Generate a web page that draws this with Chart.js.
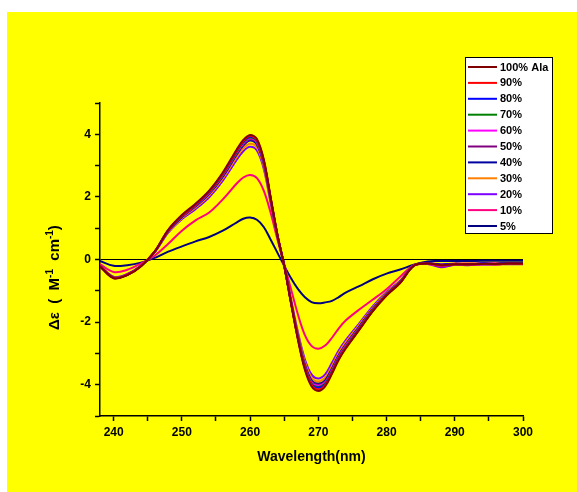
<!DOCTYPE html>
<html>
<head>
<meta charset="utf-8">
<script src="https://cdn.jsdelivr.net/npm/chart.js@4/dist/chart.umd.min.js"></script>
<style>
  html, body { margin: 0; padding: 0; background: #ffffff; }
  #wrap { width: 577px; height: 492px; }
</style>
</head>
<body>
<div id="wrap"><canvas id="cd" width="577" height="492"></canvas></div>
<script>
// wavelength grid (nm)
var wavelength = [238, 240, 242, 244, 246, 248, 250, 252, 254, 256, 258, 259, 260, 261, 262, 263, 264, 265, 266, 267,
                  268, 269, 270, 271, 272, 273, 274, 276, 278, 280, 282, 284, 286, 288, 290, 292, 294, 296, 298, 300];

var seriesNames = ['100% Ala', '90%', '80%', '70%', '60%', '50%', '40%', '30%', '20%', '10%', '5%'];

var ala100 = [-0.22, -0.60, -0.50, -0.22, 0.25, 0.95, 1.42, 1.78, 2.20, 2.78, 3.50, 3.82, 3.98, 3.85, 3.20, 2.00, 0.80, -0.20, -1.40, -2.55,
              -3.50, -4.05, -4.20, -4.05, -3.65, -3.20, -2.85, -2.25, -1.65, -1.15, -0.75, -0.20, -0.13, -0.18, -0.15, -0.15, -0.14, -0.14, -0.13, -0.13];
var ala90 = [-0.21, -0.59, -0.49, -0.21, 0.25, 0.94, 1.40, 1.76, 2.18, 2.75, 3.47, 3.78, 3.95, 3.81, 3.17, 1.98, 0.79, -0.20, -1.38, -2.52,
             -3.46, -4.00, -4.15, -4.01, -3.61, -3.17, -2.82, -2.23, -1.63, -1.14, -0.74, -0.20, -0.13, -0.19, -0.15, -0.16, -0.14, -0.15, -0.13, -0.14];
var ala80 = [-0.21, -0.59, -0.49, -0.21, 0.24, 0.93, 1.40, 1.75, 2.17, 2.74, 3.45, 3.76, 3.92, 3.79, 3.15, 1.97, 0.79, -0.19, -1.38, -2.51,
             -3.45, -3.99, -4.10, -3.99, -3.60, -3.15, -2.81, -2.22, -1.63, -1.13, -0.74, -0.20, -0.12, -0.17, -0.14, -0.15, -0.13, -0.14, -0.12, -0.13];
var ala70 = [-0.21, -0.58, -0.49, -0.21, 0.24, 0.93, 1.39, 1.74, 2.15, 2.72, 3.42, 3.74, 3.90, 3.77, 3.13, 1.96, 0.78, -0.19, -1.37, -2.49,
             -3.42, -3.96, -4.07, -3.96, -3.57, -3.13, -2.79, -2.20, -1.61, -1.12, -0.73, -0.20, -0.13, -0.18, -0.15, -0.15, -0.14, -0.14, -0.13, -0.13];
var ala60 = [-0.21, -0.58, -0.48, -0.21, 0.24, 0.92, 1.38, 1.73, 2.13, 2.70, 3.40, 3.71, 3.87, 3.74, 3.10, 1.94, 0.78, -0.19, -1.36, -2.47,
             -3.40, -3.93, -4.03, -3.93, -3.54, -3.10, -2.76, -2.18, -1.60, -1.12, -0.73, -0.19, -0.14, -0.20, -0.16, -0.16, -0.15, -0.15, -0.14, -0.14];
var ala50 = [-0.21, -0.58, -0.48, -0.21, 0.24, 0.91, 1.37, 1.71, 2.12, 2.68, 3.37, 3.68, 3.84, 3.71, 3.08, 1.93, 0.77, -0.19, -1.35, -2.46,
             -3.37, -3.90, -4.00, -3.90, -3.52, -3.08, -2.74, -2.17, -1.59, -1.11, -0.72, -0.19, -0.13, -0.22, -0.16, -0.17, -0.15, -0.15, -0.14, -0.14];
var ala40 = [-0.21, -0.57, -0.48, -0.21, 0.24, 0.91, 1.35, 1.70, 2.10, 2.65, 3.34, 3.64, 3.80, 3.67, 3.05, 1.91, 0.76, -0.19, -1.33, -2.43,
             -3.34, -3.86, -3.97, -3.86, -3.48, -3.05, -2.72, -2.14, -1.57, -1.10, -0.71, -0.19, -0.12, -0.17, -0.14, -0.15, -0.13, -0.14, -0.12, -0.13];
var ala30 = [-0.20, -0.56, -0.47, -0.20, 0.23, 0.88, 1.32, 1.66, 2.05, 2.59, 3.26, 3.55, 3.70, 3.58, 2.98, 1.86, 0.74, -0.19, -1.30, -2.37,
             -3.26, -3.77, -3.90, -3.77, -3.40, -2.98, -2.65, -2.09, -1.54, -1.07, -0.70, -0.19, -0.13, -0.19, -0.15, -0.16, -0.14, -0.15, -0.13, -0.14];
var ala20 = [-0.20, -0.55, -0.46, -0.20, 0.23, 0.86, 1.29, 1.61, 1.99, 2.52, 3.17, 3.46, 3.60, 3.48, 2.90, 1.81, 0.72, -0.18, -1.27, -2.31,
             -3.17, -3.67, -3.80, -3.67, -3.30, -2.90, -2.58, -2.04, -1.49, -1.04, -0.68, -0.19, -0.14, -0.25, -0.17, -0.18, -0.16, -0.16, -0.15, -0.15];
var ala10 = [-0.15, -0.40, -0.33, -0.13, 0.12, 0.50, 0.92, 1.25, 1.50, 1.92, 2.42, 2.62, 2.70, 2.60, 2.20, 1.50, 0.65, -0.15, -0.95, -1.75,
             -2.40, -2.76, -2.85, -2.75, -2.50, -2.20, -1.95, -1.60, -1.28, -0.95, -0.55, -0.18, -0.13, -0.15, -0.13, -0.13, -0.12, -0.12, -0.12, -0.12];
var ala5 = [-0.05, -0.20, -0.18, -0.10, 0.05, 0.25, 0.42, 0.58, 0.72, 0.92, 1.18, 1.30, 1.34, 1.27, 1.04, 0.64, 0.22, -0.20, -0.60, -0.94,
            -1.20, -1.36, -1.40, -1.37, -1.32, -1.20, -1.06, -0.85, -0.63, -0.45, -0.32, -0.17, -0.06, -0.05, -0.05, -0.05, -0.04, -0.04, -0.04, -0.04];

var xTicks = [240, 245, 250, 255, 260, 265, 270, 275, 280, 285, 290, 295, 300];

var allSeries = [ala100, ala90, ala80, ala70, ala60, ala50, ala40, ala30, ala20, ala10, ala5];
var colors = ['#800000', '#FF0000', '#0000FF', '#008000', '#FF00FF', '#800080', '#0000A0', '#FF8000', '#8000FF', '#FF0080', '#000080'];

var datasets = allSeries.map(function (vals, i) {
    return {
        label: seriesNames[i],
        data: vals.map(function (v, j) { return { x: wavelength[j], y: v }; }),
        borderColor: colors[i],
        backgroundColor: colors[i],
        borderWidth: 2,
        pointRadius: 0,
        tension: 0.35,
        fill: false
    };
});

var fontFam = '"Liberation Sans", Arial, sans-serif';

// yellow page background with white margin at top and left
var bgPlugin = {
    id: 'bg',
    beforeDraw: function (chart) {
        var c = chart.ctx;
        c.save();
        c.fillStyle = '#FFFF00';
        c.fillRect(7, 12, 570, 480);
        c.restore();
    }
};

// rotated y title with real superscripts
var yTitle = {
    id: 'yTitle',
    afterDraw: function (chart) {
        var c = chart.ctx;
        var parts = [['Δε  (  M', 15, 0], ['-1', 10, -6], ['  cm', 15, 0], ['-1', 10, -6], [')', 15, 0]];
        c.save();
        c.translate(59, 330);
        c.rotate(-Math.PI / 2);
        c.fillStyle = '#000';
        c.textBaseline = 'alphabetic';
        var x = 0;
        for (var i = 0; i < parts.length; i++) {
            c.font = 'bold ' + parts[i][1] + 'px ' + fontFam;
            c.fillText(parts[i][0], x, parts[i][2]);
            x += c.measureText(parts[i][0]).width;
        }
        c.restore();
    }
};

// boxed legend in the upper right
var boxLegend = {
    id: 'boxLegend',
    afterDraw: function (chart) {
        var c = chart.ctx;
        c.save();
        c.fillStyle = '#ffffff';
        c.fillRect(465, 57, 87, 176);
        c.strokeStyle = '#000000';
        c.lineWidth = 1;
        c.strokeRect(465.5, 57.5, 87, 176);
        c.font = 'bold 11px ' + fontFam;
        c.textBaseline = 'middle';
        for (var i = 0; i < seriesNames.length; i++) {
            var y = 67 + i * 15.9;
            c.strokeStyle = colors[i];
            c.lineWidth = 2;
            c.beginPath();
            c.moveTo(468, y);
            c.lineTo(497, y);
            c.stroke();
            c.fillStyle = '#000000';
            c.fillText(seriesNames[i], 500, y + 0.5);
        }
        c.restore();
    }
};

var chart = new Chart(document.getElementById('cd'), {
    type: 'line',
    data: { datasets: datasets },
    plugins: [bgPlugin, yTitle, boxLegend],
    options: {
        responsive: false,
        animation: false,
        layout: { padding: { top: 103, right: 54, left: 0, bottom: 0 } },
        plugins: { legend: { display: false }, tooltip: { enabled: false } },
        scales: {
            x: {
                type: 'linear',
                min: 238,
                max: 300,
                afterFit: function (s) { s.height = 76; },
                afterBuildTicks: function (s) {
                    s.ticks = xTicks.map(function (v) { return { value: v }; });
                },
                grid: { drawOnChartArea: false, drawTicks: true, tickLength: 5, tickColor: '#000', tickWidth: 1.5 },
                border: { display: true, color: '#000', width: 1.5 },
                ticks: {
                    color: '#000',
                    padding: 4,
                    maxRotation: 0,
                    autoSkip: false,
                    font: { family: fontFam, size: 12, weight: 'bold' },
                    callback: function (v) { return v % 10 === 0 ? String(v) : ''; }
                },
                title: {
                    display: true,
                    text: 'Wavelength(nm)',
                    color: '#000',
                    font: { family: fontFam, size: 14, weight: 'bold' },
                    padding: { top: 0, bottom: 26 }
                }
            },
            y: {
                min: -5,
                max: 5,
                afterFit: function (s) { s.width = 100; },
                grid: {
                    drawOnChartArea: true,
                    drawTicks: true,
                    tickLength: 5,
                    tickColor: '#000',
                    tickWidth: 1.5,
                    lineWidth: 1,
                    color: function (ctx) { return ctx.tick && ctx.tick.value === 0 ? '#000' : 'rgba(0,0,0,0)'; }
                },
                border: { display: true, color: '#000', width: 1.5 },
                ticks: {
                    stepSize: 1,
                    color: '#000',
                    padding: 4,
                    font: { family: fontFam, size: 12, weight: 'bold' },
                    callback: function (v) { return v % 2 === 0 ? String(v) : ''; }
                }
            }
        }
    }
});
</script>
</body>
</html>
